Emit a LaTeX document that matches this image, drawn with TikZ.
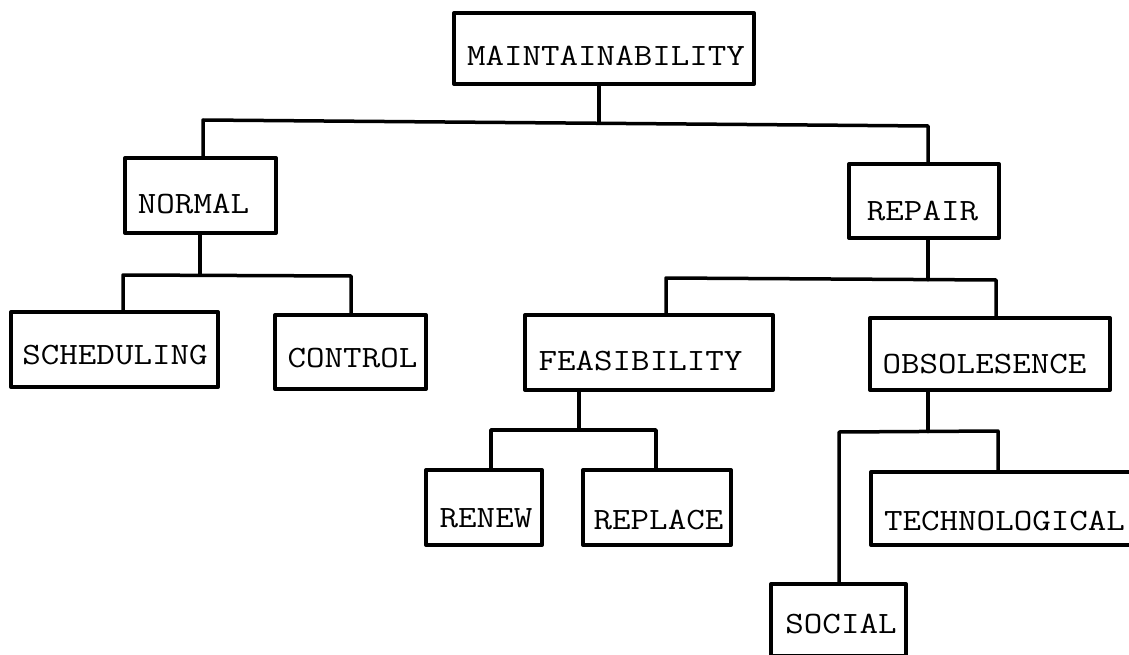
\documentclass[tikz,border=0pt]{standalone}
\usepackage{fontspec}
\usepackage{graphicx}
\newcommand\lbl[3]{\raisebox{-#2pt}[\height][\depth]{\makebox[0pt]{\hspace*{#1pt}\hspace*{#1pt}\scalebox{1.16}[1]{#3}}}}
\begin{document}
\begin{tikzpicture}[x=1pt,y=-1pt,
  box/.style={draw, line width=4pt, rectangle, inner sep=0pt, line join=round,
              font=\fontsize{31}{36}\selectfont\ttfamily},
  conn/.style={line width=3.5pt, line join=round, line cap=round}]
\useasboundingbox (0,0) rectangle (1129,655);
\clip (0,0) rectangle (1129,655);
% boxes
\node[box, minimum width=300pt, minimum height=71pt] (M)  at (604,48.5)   {\lbl{2}{7.5}{MAINTAINABILITY}};
\node[box, minimum width=151pt, minimum height=75pt] (N)  at (200.5,195.5){\lbl{-7}{8.5}{NORMAL}};
\node[box, minimum width=207pt, minimum height=75pt] (S)  at (114.5,349.5){\lbl{0.5}{5.5}{SCHEDULING}};
\node[box, minimum width=151pt, minimum height=74pt] (C)  at (350.5,352)  {\lbl{2}{6}{CONTROL}};
\node[box, minimum width=150pt, minimum height=74pt] (R)  at (924,201)    {\lbl{-1.5}{10}{REPAIR}};
\node[box, minimum width=248pt, minimum height=75pt] (F)  at (649,352.5)  {\lbl{-8.5}{8.5}{FEASIBILITY}};
\node[box, minimum width=240pt, minimum height=72pt] (O)  at (990,354)    {\lbl{-5.5}{10.5}{OBSOLESENCE}};
\node[box, minimum width=116pt, minimum height=75pt] (RN) at (484,507.5)  {\lbl{2}{10.5}{RENEW}};
\node[box, minimum width=148pt, minimum height=75pt] (RP) at (657,507.5)  {\lbl{1.5}{12.5}{REPLACE}};
\node[box, minimum width=269pt, minimum height=73pt] (T)  at (1005.5,508.5){\lbl{-1}{12.5}{TECHNOLOGICAL}};
\node[box, minimum width=135pt, minimum height=72pt] (SO) at (838.5,620)  {\lbl{2.5}{3.5}{SOCIAL}};
% junction points
\coordinate (a0) at (599,123);   \coordinate (a1) at (203,120);   \coordinate (a2) at (928,126);
\coordinate (b0) at (200,275);   \coordinate (b1) at (123,275);   \coordinate (b2) at (351,276);
\coordinate (c0) at (928,279.6); \coordinate (c1) at (666,278);   \coordinate (c2) at (996,280);
\coordinate (d0) at (579,430);   \coordinate (d1) at (491,430);   \coordinate (d2) at (656,430);
\coordinate (e0) at (928,431.5); \coordinate (e1) at (839,432);   \coordinate (e2) at (998,431);
% connectors
\draw[conn] (M.south -| a0) -- (a0);
\draw[conn] (N.north -| a1) -- (a1) -- (a2) -- (R.north -| a2);
\draw[conn] (N.south -| b0) -- (b0);
\draw[conn] (S.north -| b1) -- (b1) -- (b2) -- (C.north -| b2);
\draw[conn] (R.south -| c0) -- (c0);
\draw[conn] (F.north -| c1) -- (c1) -- (c2) -- (O.north -| c2);
\draw[conn] (F.south -| d0) -- (d0);
\draw[conn] (RN.north -| d1) -- (d1) -- (d2) -- (RP.north -| d2);
\draw[conn] (O.south -| e0) -- (e0);
\draw[conn] (SO.north -| e1) -- (e1) -- (e2) -- (T.north -| e2);
\end{tikzpicture}
\end{document}
